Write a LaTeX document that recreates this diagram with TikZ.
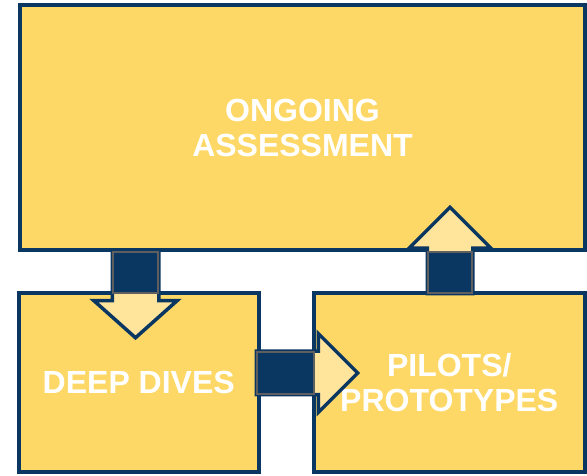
\documentclass[tikz,border=0pt]{standalone}
\usepackage{fontspec}
\setmainfont{Liberation Sans}
\usetikzlibrary{positioning, calc}
\definecolor{cbnavy}{RGB}{10,54,98}
\definecolor{cbyellow}{RGB}{253,216,102}
\definecolor{cblight}{RGB}{255,228,155}
\definecolor{cbgray}{RGB}{95,95,95}
\pgfdeclarelayer{back}
\pgfdeclarelayer{front}
\pgfsetlayers{back,main,front}
\tikzset{
    stage/.style={draw=cbnavy, line width=4pt, fill=cbyellow, text=white, inner sep=0pt,
        align=center, font=\fontsize{32}{35}\selectfont\bfseries},
    plug/.style={draw=cbgray, line width=1.5pt, fill=cbnavy, inner sep=0pt},
    tip/.style={draw=cbnavy, line width=3.5pt, fill=cblight, line join=miter}
}

\begin{document}
\begin{tikzpicture}[x=1pt, y=1pt]
    \useasboundingbox (0,0) rectangle (587,476);
    % the three stages
    \begin{pgfonlayer}{back}
        \node[stage, minimum width=565pt, minimum height=245pt] (assess) at (302.5,348.5) {ONGOING\\ASSESSMENT};
        \node[stage, minimum width=239.5pt, minimum height=179.5pt] (dive) at (138.75,93.25) {DEEP DIVES};
        \node[stage, minimum width=271.5pt, minimum height=179.5pt] (pilot) at (449.25,93.25) {PILOTS/\\PROTOTYPES};
    \end{pgfonlayer}
    % connectors: navy plug on top of a pale arrow head
    \begin{pgfonlayer}{front}
        \node[plug, minimum width=45pt, minimum height=41pt] (down) at (135.5,203.5) {};
        \node[plug, minimum width=44pt, minimum height=41pt] (up) at (450,203.5) {};
        \node[plug, minimum width=57pt, minimum height=42pt] (right) at (285.5,103) {};
    \end{pgfonlayer}
    \draw[tip] (down.north west) -- ($(down.south west)+(0,-7)$) -- ($(down.south)+(-41.5,-7)$)
        -- ($(down.south)+(0,-44)$) -- ($(down.south)+(41.5,-7)$) -- ($(down.south east)+(0,-7)$)
        -- (down.north east) -- cycle;
    \draw[tip] (up.south west) -- ($(up.north west)+(0,3)$) -- ($(up.north)+(-41,3)$)
        -- ($(up.north)+(0,44)$) -- ($(up.north)+(41,3)$) -- ($(up.north east)+(0,3)$)
        -- (up.south east) -- cycle;
    \draw[tip] (right.north west) -- ($(right.north east)+(3.5,0)$) -- ($(right.east)+(3.5,39.5)$)
        -- ($(right.east)+(43,0)$) -- ($(right.east)+(3.5,-39.5)$) -- ($(right.south east)+(3.5,0)$)
        -- (right.south west) -- cycle;
\end{tikzpicture}
\end{document}
